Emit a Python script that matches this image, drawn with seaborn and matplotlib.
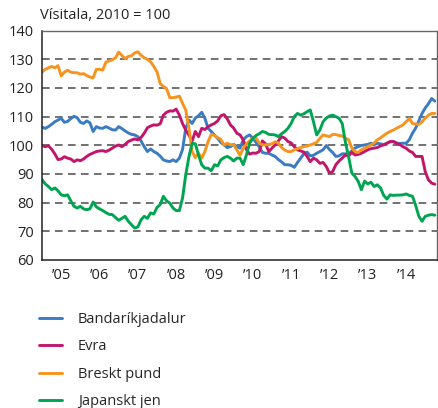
import numpy as np
import pandas as pd
import matplotlib
matplotlib.use("Agg")
import matplotlib.pyplot as plt
import seaborn as sns

# Mánaðarleg vísitala, jan 2005 - apr 2015 (2010 = 100)
usd = [106.3, 105.9, 106.5, 107.3, 108.2, 108.8, 109.4, 108.0, 108.3, 109.3, 110.1, 109.6,
       108.0, 107.6, 108.5, 107.8, 104.8, 106.5, 106.0, 105.9, 106.5, 106.0, 105.4, 105.3,
       106.5, 105.8, 105.0, 104.3, 103.8, 103.6, 103.0, 101.5, 99.5, 97.8, 98.7, 97.8,
       97.2, 96.2, 94.9, 94.5, 94.3, 94.9, 94.3, 95.5, 98.5, 105.9, 108.8, 107.6,
       109.5, 110.3, 111.5, 109.4, 105.9, 104.8, 103.5, 102.4, 101.0, 100.1, 99.2, 99.5,
       100.3, 99.5, 99.0, 101.9, 103.0, 103.6, 102.5, 101.0, 99.5, 97.5, 97.2, 97.2,
       96.6, 96.1, 95.0, 94.2, 93.2, 93.2, 93.0, 92.3, 94.0, 95.5, 97.0, 97.6,
       96.3, 96.5, 97.2, 97.8, 98.4, 99.9, 98.5, 97.5, 96.1, 96.3, 97.0, 97.0,
       97.0, 98.0, 99.0, 99.5, 99.9, 100.1, 100.3, 100.7, 100.2, 100.7, 100.5, 100.2,
       100.7, 101.2, 101.3, 100.8, 100.6, 100.7, 100.7, 101.9, 104.2, 106.0, 108.5, 111.1,
       113.0, 114.5, 116.3, 115.4]
eur = [99.9, 99.5, 99.8, 98.6, 97.0, 95.0, 95.2, 96.0, 95.5, 95.2, 94.3, 94.9,
       94.6, 95.2, 96.1, 96.8, 97.3, 97.8, 98.0, 98.1, 97.8, 98.3, 99.0, 99.7,
       100.1, 99.5, 100.3, 101.3, 101.8, 102.2, 101.9, 102.7, 104.2, 106.1, 106.7, 107.1,
       107.0, 107.5, 110.5, 111.5, 112.0, 111.9, 112.6, 110.5, 107.6, 105.3, 103.5, 101.5,
       104.8, 103.0, 105.9, 105.5, 106.5, 107.1, 107.6, 108.5, 110.3, 110.7, 109.2, 107.1,
       106.0, 104.2, 103.6, 101.9, 98.5, 96.9, 97.3, 97.2, 97.8, 101.5, 100.5, 97.8,
       99.0, 100.1, 101.5, 103.0, 102.5, 101.3, 100.8, 99.5, 98.4, 98.0, 97.6, 96.1,
       94.3, 95.5, 94.9, 93.7, 94.0, 92.6, 90.3, 90.8, 93.2, 94.5, 95.5, 96.6,
       96.3, 97.6, 96.6, 96.8, 97.2, 97.8, 98.4, 98.8, 99.0, 99.2, 99.8, 100.1,
       100.7, 101.3, 101.3, 100.7, 100.3, 99.5, 99.0, 98.0, 97.5, 96.1, 96.1, 96.1,
       90.8, 87.9, 86.8, 86.4]
gbp = [125.5, 126.5, 127.0, 127.5, 127.0, 127.8, 124.2, 125.5, 126.2, 125.5, 125.3, 125.3,
       124.8, 125.0, 124.3, 123.8, 123.5, 126.5, 126.5, 126.2, 129.0, 129.4, 129.8, 130.5,
       132.5, 131.3, 130.2, 131.0, 131.2, 132.2, 132.6, 131.4, 130.5, 130.0, 129.1, 127.5,
       125.6, 121.5, 120.5, 119.8, 116.6, 116.6, 116.8, 117.1, 114.6, 112.3, 105.9, 97.8,
       95.7, 97.2, 95.5, 97.8, 101.3, 103.8, 103.4, 102.7, 102.0, 100.1, 100.7, 100.2,
       100.2, 98.4, 96.5, 99.0, 100.5, 101.5, 102.5, 102.5, 100.8, 100.1, 100.1, 100.3,
       100.5, 101.2, 100.8, 99.2, 98.3, 97.8, 97.8, 98.4, 98.8, 99.2, 99.5, 99.8,
       100.1, 100.5, 101.0, 102.4, 103.6, 103.3, 103.0, 103.8, 103.7, 103.4, 103.2, 102.5,
       101.9, 99.0, 97.8, 97.5, 98.4, 99.0, 99.5, 100.1, 100.8, 101.9, 102.6, 103.4,
       104.2, 104.8, 105.3, 105.9, 106.5, 107.1, 108.2, 109.4, 107.6, 107.4, 107.3, 108.2,
       109.5, 110.5, 111.1, 111.1]
jpy = [88.0, 86.5, 85.6, 84.5, 85.1, 84.1, 82.7, 82.4, 82.7, 80.6, 78.7, 78.1,
       78.7, 77.8, 77.5, 77.8, 80.2, 78.5, 77.8, 77.2, 76.5, 75.9, 75.8, 74.8,
       73.8, 74.5, 75.2, 73.5, 72.3, 71.1, 71.5, 74.0, 75.2, 74.5, 76.4, 76.0,
       78.3, 79.3, 82.2, 80.6, 79.8, 78.1, 77.2, 77.2, 81.6, 89.7, 96.0, 100.7,
       100.5, 96.6, 93.2, 92.0, 92.0, 91.1, 93.2, 92.8, 94.9, 95.7, 96.1, 95.5,
       94.5, 95.5, 95.5, 93.2, 96.6, 100.7, 102.4, 103.4, 104.0, 104.8, 104.5, 103.8,
       103.7, 103.6, 103.0, 104.0, 104.8, 105.9, 107.6, 110.0, 111.1, 110.5, 111.0, 111.7,
       112.3, 108.2, 103.6, 105.3, 108.2, 109.5, 110.2, 110.5, 110.0, 109.4, 107.6, 101.0,
       96.0, 90.3, 89.1, 87.4, 84.5, 87.5, 86.5, 87.1, 85.6, 86.2, 85.1, 82.5,
       81.2, 82.7, 82.5, 82.6, 82.6, 82.7, 83.0, 82.5, 82.2, 79.0, 75.2, 73.5,
       75.2, 75.6, 75.8, 75.6]

names = ["Bandaríkjadalur", "Evra", "Breskt pund", "Japanskt jen"]
colors = ["#3a7cc3", "#c2166b", "#f7941e", "#00a551"]
years = list(range(2005, 2015))
year_labels = ["\u201905", "\u201906", "\u201907", "\u201908", "\u201909",
               "\u201910", "\u201911", "\u201912", "\u201913", "\u201914"]

ar = 2005 + np.arange(len(usd)) / 12
df = pd.concat([pd.DataFrame({"ar": ar, "gildi": v, "mynt": n})
                for n, v in zip(names, [usd, eur, gbp, jpy])])

sns.set_style("white")
plt.rcParams["font.family"] = ["Open Sans", "DejaVu Sans"]

fig = plt.figure(figsize=(4.38, 4.08), dpi=100)
ax = fig.add_axes([0.096, 0.363, 0.902, 0.562])

for y in range(70, 140, 10):
    ax.axhline(y, color="#4a4a4a", lw=1.1, ls=(0, (5, 3.5)), zorder=0)

sns.lineplot(data=df, x="ar", y="gildi", hue="mynt", hue_order=names,
             palette=colors, linewidth=2.1, ax=ax, legend=False)

ax.set_xlim(2005, 2015.31)
ax.set_ylim(60, 140)
ax.set_yticks(range(60, 141, 10))
ax.tick_params(axis="y", length=0, labelsize=10.5, pad=6, colors="#222222")
ax.set_xticks(years[1:] + [2015])
ax.set_xticklabels([])
ax.set_xticks([y + 0.5 for y in years], minor=True)
ax.set_xticklabels(year_labels, minor=True)
ax.tick_params(axis="x", which="major", length=6, width=1, color="#222222", direction="out")
ax.tick_params(axis="x", which="minor", length=0, labelsize=10.5, pad=6, colors="#222222")
ax.set_xlabel("")
ax.set_ylabel("")

for s in ["left", "bottom"]:
    ax.spines[s].set_color("#222222")
    ax.spines[s].set_linewidth(1.1)
for s in ["top", "right"]:
    ax.spines[s].set_color("#666666")
    ax.spines[s].set_linewidth(1.0)

fig.text(0.091, 0.962, "Vísitala, 2010 = 100", fontsize=10.5, color="#222222",
         ha="left", va="center")

handles = [h for h in ax.get_lines() if h.get_linestyle() == "-"][:4]
fig.legend(handles, names, loc="upper left", bbox_to_anchor=(0.076, 0.25),
           frameon=False, fontsize=10.5, handlelength=1.55, handletextpad=1.1,
           labelspacing=0.85, borderaxespad=0)

fig.savefig("out.png", dpi=100)
